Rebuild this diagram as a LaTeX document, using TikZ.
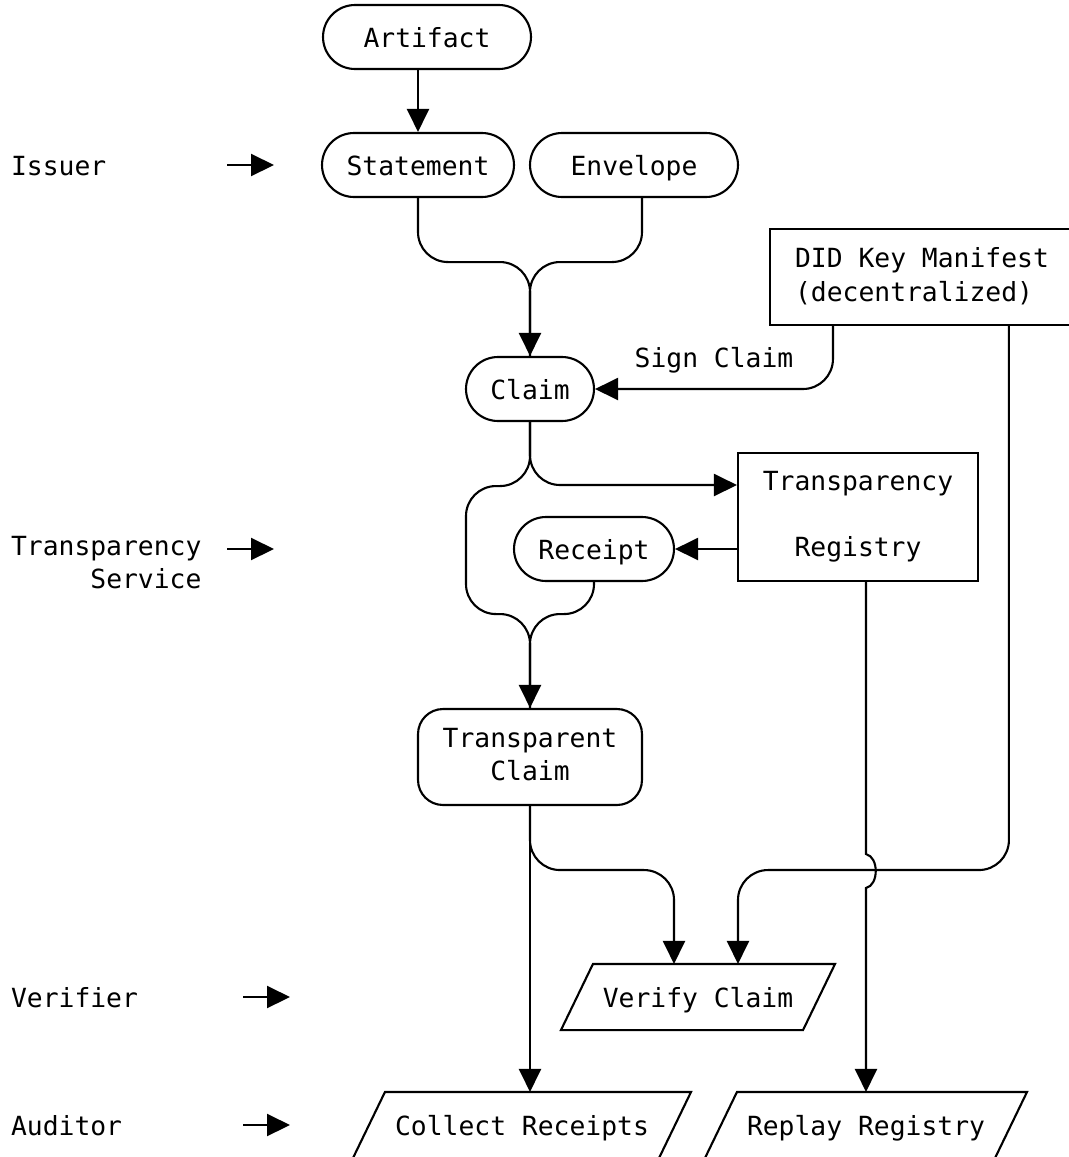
\documentclass[tikz,border=0pt]{standalone}
\usepackage{fontspec}
\setmonofont{DejaVu Sans Mono}
\usetikzlibrary{arrows.meta}
\newcommand{\rowstrut}{\rule[-3pt]{0pt}{18.2pt}}

\begin{document}
\begin{tikzpicture}[x=0.02cm, y=-0.02cm, line width=1.2pt]
\tikzset{txt/.style={font=\ttfamily\fontsize{15pt}{18.2pt}\selectfont, inner sep=0pt, execute at begin node=\rowstrut},
         pill/.style={txt, draw, rounded corners=0.64cm, minimum height=1.28cm},
         box/.style={txt, draw, align=center},
         io/.style={txt, minimum height=1.28cm},
         lane/.style={txt, anchor=west, align=right},
         arr/.style={-{Triangle[length=0.46cm, width=0.44cm]}},
         curve/.style={rounded corners=0.6cm}}
\useasboundingbox (0,0) rectangle (1069,1157);

% roles on the left
\node[lane] (issuer) at (10,165) {Issuer};
\node[lane] (service) at (10,565) {Transparency\\\rowstrut Service};
\node[lane] (verifier) at (10,997) {Verifier};
\node[lane] (auditor) at (10,1125) {Auditor};
\coordinate (iss-a) at (227,165);  \coordinate (iss-b) at (274,165);
\coordinate (ts-a) at (227,549);   \coordinate (ts-b) at (274,549);
\coordinate (ver-a) at (243,997);  \coordinate (ver-b) at (290,997);
\coordinate (aud-a) at (243,1125); \coordinate (aud-b) at (290,1125);
\draw[arr] (iss-a) -- (iss-b);
\draw[arr] (ts-a) -- (ts-b);
\draw[arr] (ver-a) -- (ver-b);
\draw[arr] (aud-a) -- (aud-b);

% nodes
\node[pill, minimum width=4.16cm] (artifact) at (427,37) {Artifact};
\node[pill, minimum width=3.84cm] (statement) at (418,165) {Statement};
\node[pill, minimum width=4.16cm] (envelope) at (634,165) {Envelope};
\node[box, align=left, minimum width=6.08cm, minimum height=1.92cm] (did) at (922,277) {DID Key Manifest\\\rowstrut(decentralized)};
\node[txt] (sign) at (714,357) {Sign Claim};
\node[pill, minimum width=2.56cm] (claim) at (530,389) {Claim};
\node[box, minimum width=4.8cm, minimum height=2.56cm] (registry) at (858,517) {Transparency\\[18.2pt]\rowstrut Registry};
\node[pill, minimum width=3.2cm] (receipt) at (594,549) {Receipt};
\node[box, rounded corners=0.5cm, minimum width=4.48cm, minimum height=1.92cm] (tclaim) at (530,757) {Transparent\\\rowstrut Claim};
\node[io, minimum width=4.8cm] (verify) at (698,997) {Verify Claim};
\node[io, minimum width=6.08cm] (collect) at (522,1125) {Collect Receipts};
\node[io, minimum width=5.76cm] (replay) at (866,1125) {Replay Registry};

% slanted shapes
\draw ([xshift=0.32cm]verify.north west) -- ([xshift=0.32cm]verify.north east)
  -- ([xshift=-0.32cm]verify.south east) -- ([xshift=-0.32cm]verify.south west) -- cycle;
\foreach \n in {collect,replay}
  \draw ([xshift=-0.32cm]\n.south west) -- ([xshift=0.32cm]\n.north west)
    -- ([xshift=0.32cm]\n.north east) -- ([xshift=-0.32cm]\n.south east);

% helper points
\coordinate (cross) at ([yshift=-1.28cm]tclaim.south);
\coordinate (hop) at (cross -| replay.north);
\coordinate (v-l) at ([xshift=-0.48cm]verify.north);
\coordinate (v-r) at ([xshift=0.8cm]verify.north);

% connectors
\draw[arr] (artifact.south -| statement.north) -- (statement.north);
\draw[arr, curve] (statement.south) -- ++(0,64) -| (claim.north);
\draw[curve] ([xshift=0.16cm]envelope.south) -- ++(0,64) -| (claim.north);
\draw[arr, curve] ([xshift=1.28cm]did.south west) |- (claim.east);
\draw[arr, curve] (claim.south) |- ([yshift=0.64cm]registry.west);
\draw[arr, curve] (claim.south) -- ++(0,64) -- ++(-64,0) -- ++(0,128) -- ++(64,0) -- (tclaim.north);
\draw[arr] (registry.west |- receipt.east) -- (receipt.east);
\draw[curve] (receipt.south) -- ++(0,32) -- ++(-64,0) -- (tclaim.north);
\draw[arr] (tclaim.south) -- (tclaim.south |- collect.north);
\draw[arr, curve] (tclaim.south) -- (cross) -| (v-l);
\draw[arr, curve] ([xshift=4.8cm]did.south west) |- (v-r |- cross) -- (v-r);
\draw[arr] ([xshift=0.16cm]registry.south) -- ([yshift=0.32cm]hop)
  .. controls +(0.26cm,-0.06cm) and +(0.26cm,0.06cm) .. ([yshift=-0.36cm]hop) -- (replay.north);
\end{tikzpicture}
\end{document}
